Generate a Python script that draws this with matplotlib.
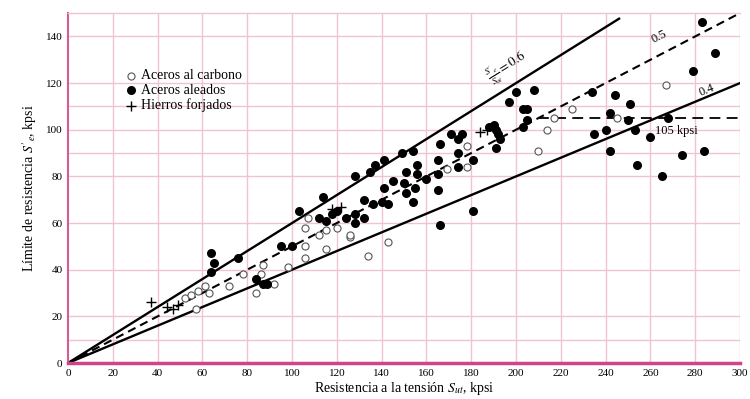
import matplotlib
matplotlib.use('Agg')
import matplotlib.pyplot as plt
import numpy as np

plt.rcParams['font.family'] = ['Liberation Serif', 'DejaVu Serif']
plt.rcParams['mathtext.fontset'] = 'stix'

# Aceros aleados (filled)
alloy_x = [64, 65, 64, 76, 84, 87, 89, 95, 100, 103, 112, 114, 115, 118, 120, 124, 128, 128,
           132, 128, 132, 135, 136, 137, 140, 141, 141, 143, 145, 149, 154, 150, 151, 155,
           154, 151, 156, 156, 160, 165, 165, 166, 165, 166, 181, 171, 176, 174, 174, 181,
           174, 190, 191, 188, 192, 193, 191, 197, 200, 203, 205, 203, 208, 205, 234, 244,
           251, 242, 250, 253, 268, 260, 240, 235, 242, 274, 284, 254, 265, 283, 289, 279]
alloy_y = [47, 43, 39, 45, 36, 34, 34, 50, 50, 65, 62, 71, 61, 64, 65, 62, 64, 60,
           62, 80, 70, 82, 68, 85, 69, 75, 87, 68, 78, 90, 91, 77, 73, 75,
           69, 82, 85, 81, 79, 81, 87, 94, 74, 59, 65, 98, 98, 96, 90, 87,
           84, 102, 100, 101, 98, 96, 92, 112, 116, 109, 104, 101, 117, 109, 116, 115,
           111, 107, 104, 100, 105, 97, 100, 98, 91, 89, 91, 85, 80, 146, 133, 125]

# Aceros al carbono (open)
carbon_x = [52, 55, 58, 61, 57, 63, 72, 78, 84, 86, 87, 92, 98, 106, 106, 106, 107, 112,
            115, 115, 120, 126, 126, 134, 143, 169, 178, 178, 210, 214, 217, 225, 245, 267]
carbon_y = [28, 29, 31, 33, 23, 30, 33, 38, 30, 38, 42, 34, 41, 45, 50, 58, 62, 55,
            57, 49, 58, 54, 55, 46, 52, 83, 84, 93, 91, 100, 105, 109, 105, 119]

# Hierros forjados (+)
wrought_x = [37, 44, 47, 49, 118, 122, 184, 187]
wrought_y = [26, 24, 23, 25, 66, 67, 99, 100]

ratios = [0.6, 0.5, 0.4]
line_end = [246, 300, 300]
limit_val = 105

fig = plt.figure(figsize=(7.5, 3.99), dpi=100)
ax = fig.add_axes([0.0907, 0.0902, 0.896, 0.877])

pink = '#f0c2d6'
for gx in range(20, 301, 20):
    ax.axvline(gx, color=pink, lw=1.0, zorder=0)
for gy in [10, 20, 40, 60, 80, 90, 100, 110, 120, 140]:
    ax.axhline(gy, color=pink, lw=1.0, zorder=0)

# lines through origin
for r, xe in zip(ratios, line_end):
    xs = np.array([0, xe])
    if r == 0.5:
        ax.plot(xs, r * xs, color='black', lw=1.5, ls=(0, (4, 2.5)), zorder=2)
    else:
        ax.plot(xs, r * xs, color='black', lw=1.7, zorder=2)

# 105 kpsi limit
ax.plot([limit_val / 0.5, 300], [limit_val, limit_val], color='black', lw=1.3,
        ls=(0, (6, 3.5)), zorder=2)

ax.scatter(carbon_x, carbon_y, s=26, facecolors='white', edgecolors='#555555',
           linewidths=0.8, zorder=3, label='Aceros al carbono')
ax.scatter(alloy_x, alloy_y, s=30, color='black', zorder=3, label='Aceros aleados')
ax.scatter(wrought_x, wrought_y, s=45, marker='+', color='black', linewidths=1.0,
           zorder=3, label='Hierros forjados')

ax.text(196, 127, r"$\frac{S'_e}{S_{ut}} = 0.6$", fontsize=9.5, rotation=32,
        ha='center', va='center')
ax.text(264, 140, '0.5', fontsize=9, rotation=27, ha='center', va='center')
ax.text(285, 117, '0.4', fontsize=9, rotation=22, ha='center', va='center')
ax.text(262, 99.5, '105 kpsi', fontsize=9, ha='left', va='center')

ax.legend(loc='upper left', bbox_to_anchor=(0.075, 0.855), frameon=False, fontsize=10,
          handletextpad=0.2, labelspacing=0.12, borderaxespad=0, handlelength=1.0)

ax.set_xlim(0, 300)
ax.set_ylim(0, 150)
ax.set_xticks(range(0, 301, 20))
ax.set_yticks(range(0, 141, 20))
ax.tick_params(length=0, labelsize=8, pad=4)

ax.spines['top'].set_color(pink)
ax.spines['top'].set_linewidth(1.0)
ax.spines['right'].set_visible(False)
ax.spines['left'].set_color('#d65a95')
ax.spines['left'].set_linewidth(1.5)
ax.spines['bottom'].set_color('#d0458a')
ax.spines['bottom'].set_linewidth(2.5)

ax.set_xlabel(r"Resistencia a la tensión $S_{ut}$, kpsi", fontsize=10, labelpad=2)
ax.set_ylabel(r"Límite de resistencia $S'_e$, kpsi", fontsize=10, labelpad=5)

fig.savefig('out.png', dpi=100)
